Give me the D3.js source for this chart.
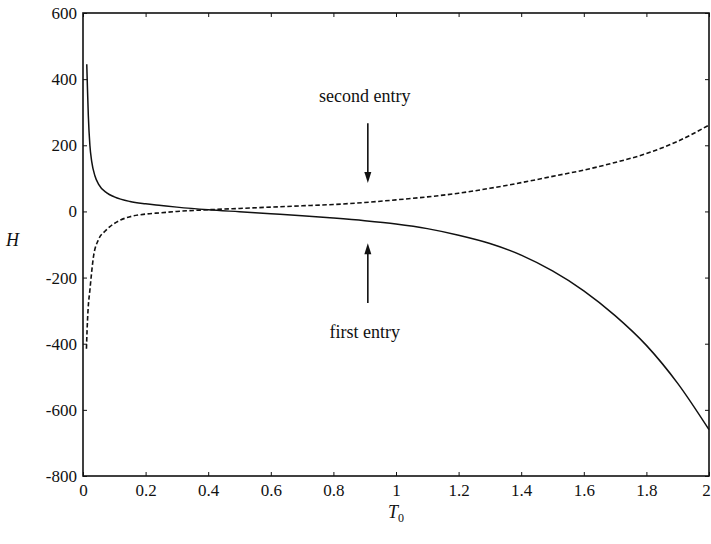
<!DOCTYPE html>
<meta charset="utf-8">
<html>
<head>
<title>H against T0</title>
<style>
    body {
        margin: 0;
        background: #fff;
    }
    text {
        font-family: "Liberation Serif", "Times New Roman", serif;
        fill: #111;
    }
</style>
<script src="https://d3js.org/d3.v7.min.js"></script>
</head>
<body>
<div id="chart"></div>

<script>

// values
var firstT  = [0.012, 0.014, 0.017, 0.022, 0.028, 0.038, 0.05, 0.076, 0.1, 0.15, 0.2, 0.25, 0.3, 0.4, 0.5, 0.6, 0.7, 0.8, 0.9, 1.0, 1.1, 1.2, 1.3, 1.4, 1.5, 1.6, 1.7, 1.8, 1.9, 2.0];
var firstH  = [445, 380, 290, 200, 150, 108, 82, 56, 44, 30, 23, 18, 13, 5, -1, -7, -13, -20, -28, -38, -52, -72, -97, -132, -180, -240, -315, -405, -520, -660];

var secondT = [0.011, 0.013, 0.016, 0.022, 0.033, 0.049, 0.07, 0.086, 0.12, 0.15, 0.2, 0.25, 0.3, 0.4, 0.5, 0.6, 0.7, 0.8, 0.9, 1.0, 1.1, 1.2, 1.3, 1.4, 1.5, 1.6, 1.7, 1.8, 1.9, 2.0];
var secondH = [-415, -360, -300, -238, -140, -86, -60, -46, -26, -16, -8, -4, 0, 5, 9, 13, 17, 21, 27, 35, 44, 55, 70, 87, 106, 125, 148, 175, 212, 261];

var xTicks = [0, 0.2, 0.4, 0.6, 0.8, 1, 1.2, 1.4, 1.6, 1.8, 2];
var yTicks = [600, 400, 200, 0, -200, -400, -600, -800];

// arrows: [T0, from H, to H]
var arrowSecond = [0.91, 267, 86];
var arrowFirst  = [0.91, -277, -96];

// set the dimensions and margins of the graph
var margin = {top: 13, right: 2, bottom: 68, left: 83},
    width = 711 - margin.left - margin.right,
    height = 544 - margin.top - margin.bottom;

var serif = "'Liberation Serif', 'Times New Roman', serif";

// set the ranges
var x = d3.scaleLinear().domain([0, 2]).range([0, width]);
var y = d3.scaleLinear().domain([-800, 600]).range([height, 0]);

var svg = d3.select("#chart")
  .append("svg")
    .attr("width", 711)
    .attr("height", 544)
  .append("g")
    .attr("transform", "translate(" + margin.left + "," + margin.top + ")");

// axes with inward ticks
var xAxis = svg.append("g")
    .attr("transform", "translate(0," + height + ")")
    .call(d3.axisBottom(x).tickValues(xTicks).tickSizeInner(-4).tickSizeOuter(0).tickPadding(8)
      .tickFormat(function(d) { return String(+d.toFixed(1)); }));

var yAxis = svg.append("g")
    .call(d3.axisLeft(y).tickValues(yTicks).tickSizeInner(-4).tickSizeOuter(0).tickPadding(6)
      .tickFormat(function(d) { return String(d); }));

var topAxis = svg.append("g")
    .call(d3.axisTop(x).tickValues(xTicks).tickSizeInner(-4).tickSizeOuter(0).tickFormat(""));

var rightAxis = svg.append("g")
    .attr("transform", "translate(" + width + ",0)")
    .call(d3.axisRight(y).tickValues(yTicks).tickSizeInner(-4).tickSizeOuter(0).tickFormat(""));

[xAxis, yAxis, topAxis, rightAxis].forEach(function(a) {
  a.attr("font-family", null).attr("font-size", null);
  a.select(".domain").remove();
  a.selectAll("line").attr("stroke", "#111");
  a.selectAll("text")
      .style("font-family", serif)
      .style("font-size", "17px")
      .attr("fill", "#111");
});

// last x label sits on the page edge, nudge it in
xAxis.selectAll(".tick text").filter(function(d) { return d === 2; }).attr("dx", -3);

// frame
svg.append("rect")
    .attr("width", width)
    .attr("height", height)
    .attr("fill", "none")
    .attr("stroke", "#111")
    .attr("stroke-width", 1.6);

// the two curves
var line = d3.line()
    .x(function(d) { return x(d[0]); })
    .y(function(d) { return y(d[1]); })
    .curve(d3.curveMonotoneX);

svg.append("path")
    .datum(d3.zip(firstT, firstH))
    .attr("fill", "none")
    .attr("stroke", "#111")
    .attr("stroke-width", 1.5)
    .attr("d", line);

svg.append("path")
    .datum(d3.zip(secondT, secondH))
    .attr("fill", "none")
    .attr("stroke", "#111")
    .attr("stroke-width", 1.6)
    .attr("stroke-dasharray", "4.5,2.5")
    .attr("d", line);

// annotations
function arrow(a) {
  var ax = x(a[0]), y0 = y(a[1]), y1 = y(a[2]);
  var dir = y1 > y0 ? 1 : -1;
  svg.append("line")
      .attr("x1", ax).attr("x2", ax)
      .attr("y1", y0).attr("y2", y1 - dir * 6)
      .attr("stroke", "#111")
      .attr("stroke-width", 1.6);
  svg.append("path")
      .attr("d", "M" + (ax - 3.5) + "," + (y1 - dir * 11) + "L" + ax + "," + y1 + "L" + (ax + 3.5) + "," + (y1 - dir * 11) + "Z")
      .attr("fill", "#111");
}
arrow(arrowSecond);
arrow(arrowFirst);

svg.append("text")
    .attr("x", x(0.9))
    .attr("y", y(331))
    .attr("text-anchor", "middle")
    .attr("font-size", 18)
    .text("second entry");

svg.append("text")
    .attr("x", x(0.9))
    .attr("y", y(-383))
    .attr("text-anchor", "middle")
    .attr("font-size", 18)
    .text("first entry");

// axis labels
svg.append("text")
    .attr("x", 6 - margin.left)
    .attr("y", 246 - margin.top)
    .attr("font-size", 18)
    .attr("font-style", "italic")
    .text("H");

var tl = svg.append("text")
    .attr("x", 388 - margin.left)
    .attr("y", 518 - margin.top)
    .attr("font-size", 18);
tl.append("tspan").attr("font-style", "italic").text("T");
tl.append("tspan").attr("font-size", 12).attr("dy", 4).text("0");

</script>
</body>
</html>
